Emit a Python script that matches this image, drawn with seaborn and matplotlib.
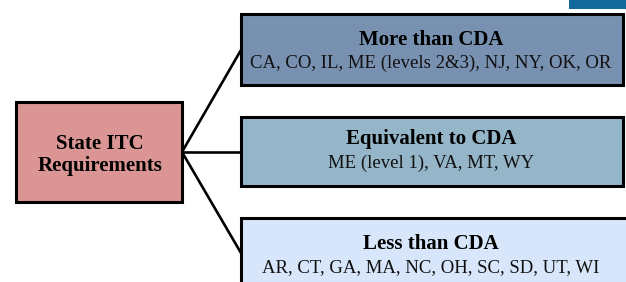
import seaborn as sns
import matplotlib.pyplot as plt
from matplotlib.patches import Rectangle

# diagram content
root_label = "State ITC\nRequirements"
group_titles = ["More than CDA", "Equivalent to CDA", "Less than CDA"]
group_states = [
    "CA, CO, IL, ME (levels 2&3), NJ, NY, OK, OR",
    "ME (level 1), VA, MT, WY",
    "AR, CT, GA, MA, NC, OH, SC, SD, UT, WI",
]
group_colors = ["#7891b1", "#95b5c9", "#d7e6fa"]
root_color = "#da9594"

# box layout in pixel coords (x0, y0, x1, y1)
root_box = (16, 102, 182, 202)
group_boxes = [(241, 14, 623, 85), (241, 117, 623, 186), (241, 218, 640, 295)]
group_link_y = [50, 152, 253]
title_y = [40, 139, 244]
states_y = [63, 163, 268]

sns.set_style("white")
plt.rcParams['font.family'] = ['Liberation Serif', 'DejaVu Serif']

fig = plt.figure(figsize=(6.26, 2.82), dpi=100)
ax = fig.add_axes([0, 0, 1, 1])
ax.set_xlim(0, 626)
ax.set_ylim(282, 0)
ax.axis("off")

# strip at the top right
ax.add_patch(Rectangle((569, -5), 70, 14, facecolor="#10699a", edgecolor="none"))

# connecting lines
rx = root_box[2]
ry = (root_box[1] + root_box[3]) / 2
for (x0, y0, x1, y1), ly in zip(group_boxes, group_link_y):
    ax.plot([rx, x0], [ry, ly], color="black", lw=1.9, solid_capstyle="butt", zorder=1)

# root box
x0, y0, x1, y1 = root_box
ax.add_patch(Rectangle((x0, y0), x1 - x0, y1 - y0, facecolor=root_color,
                       edgecolor="black", lw=2.2, zorder=2))
ax.text((x0 + x1) / 2 + 1, (y0 + y1) / 2 + 3, root_label, ha="center", va="center",
        fontsize=15, fontweight="bold", color="black", linespacing=1.15, zorder=3)

# group boxes
cx = 431
for (x0, y0, x1, y1), title, states, col, ty, sy in zip(
        group_boxes, group_titles, group_states, group_colors, title_y, states_y):
    ax.add_patch(Rectangle((x0, y0), x1 - x0, y1 - y0, facecolor=col,
                           edgecolor="black", lw=2.2, zorder=2))
    ax.text(cx, ty, title, ha="center", va="center",
            fontsize=15, fontweight="bold", color="black", zorder=3)
    ax.text(cx, sy, states, ha="center", va="center",
            fontsize=13.5, color="#111111", zorder=3)

fig.savefig("out.png", dpi=100)
plt.close(fig)
